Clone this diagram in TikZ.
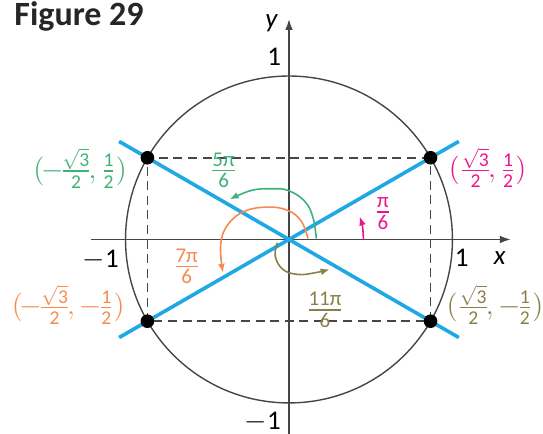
\documentclass[tikz,border=0pt]{standalone}
\usepackage{amsmath}
\usepackage{fontspec}
\setmainfont{Carlito}
\usepackage{tikz}
\usetikzlibrary{arrows.meta,positioning}

\definecolor{lineblue}{RGB}{30,168,228}
\definecolor{anggreen}{RGB}{62,178,122}
\definecolor{angpink}{RGB}{236,20,140}
\definecolor{angorange}{RGB}{245,138,78}
\definecolor{angolive}{RGB}{135,128,72}
\definecolor{axisgray}{RGB}{70,70,70}

\newcommand\fr[2]{\frac{\text{#1}}{\text{#2}}}
\newcommand\rtthree{\sqrt{\text{3}}}

\begin{document}
\begin{tikzpicture}[x=81.75pt,y=81.75pt,font=\fontsize{13.5}{15}\selectfont,
    axis/.style={axisgray,line width=0.9pt,-{Latex[length=5.5pt,width=3.8pt]}},
    dashline/.style={axisgray,line width=0.9pt,dash pattern=on 4.5pt off 2.8pt},
    blueline/.style={lineblue,line width=1.8pt},
    dot/.style={circle,fill=black,inner sep=0pt,minimum size=6.8pt},
    angarc/.style={line width=0.8pt,-{Latex[length=4.5pt,width=3.4pt]}},
    lbl/.style={inner sep=0pt},
    ptlbl/.style={inner sep=0pt,font=\fontsize{14}{16}\selectfont},
    anglbl/.style={inner sep=0pt,font=\fontsize{15}{16}\selectfont}]
    \useasboundingbox (-1.768,-1.190) rectangle (1.554,1.465);

    \node[anchor=base west,inner sep=0pt,text=black!85,font=\fontsize{17}{19}\selectfont\bfseries] (title) at (-1.682,1.312) {Figure 29};

    % points on the circle
    \coordinate (q1) at (30:1);
    \coordinate (q2) at (150:1);
    \coordinate (q3) at (210:1);
    \coordinate (q4) at (330:1);

    \draw[dashline] (q1) -- (q2) -- (q3) -- (q4) -- cycle;
    \draw[axisgray,line width=0.7pt] (0,0) circle (1);

    \draw[axis] (-1.212,0) -- (1.358,0);
    \draw[axis] (0,-1.19) -- (0,1.35);

    \draw[blueline] (210:1.2) -- (30:1.2);
    \draw[blueline] (150:1.2) -- (330:1.2);

    % angles
    \draw[angarc,angpink] (0.455,0) arc[start angle=0,end angle=18,radius=0.455];
    \draw[angarc,anggreen] plot[smooth,tension=0.7] coordinates
        {(0.167,0.006) (0.147,0.133) (0.096,0.234) (-0.006,0.30) (-0.108,0.31) (-0.23,0.30) (-0.363,0.245)};
    \draw[angarc,angorange] plot[smooth,tension=0.7] coordinates
        {(0.116,0.006) (0.075,0.112) (-0.006,0.177) (-0.128,0.198) (-0.27,0.173) (-0.373,0.092) (-0.418,-0.031) (-0.404,-0.204)};
    \draw[angarc,angolive] plot[smooth,tension=0.7] coordinates
        {(-0.071,-0.02) (-0.084,-0.102) (-0.037,-0.183) (0.055,-0.214) (0.157,-0.204) (0.249,-0.183)};

    \node[dot] (d1) at (q1) {};
    \node[dot] (d2) at (q2) {};
    \node[dot] (d3) at (q3) {};
    \node[dot] (d4) at (q4) {};

    % axis labels
    \node[lbl] (ylab) at (-0.105,1.32) {\textit{y}};
    \node[lbl] (xlab) at (1.29,-0.115) {\textit{x}};
    \node[lbl] (ytop) at (-0.09,1.118) {1};
    \node[lbl] (ybot) at (-0.16,-1.115) {$-$1};
    \node[lbl] (xleft) at (-1.151,-0.125) {$-$1};
    \node[lbl] (xright) at (1.056,-0.115) {1};

    % coordinates of the points
    \node[ptlbl,angpink] (c1) at (1.215,0.437) {$(\frac{\rtthree}{\text{2}}\mkern-2mu,\fr{1}{2})$};
    \node[ptlbl,anggreen] (c2) at (-1.278,0.435) {$(\mkern-2mu-\mkern-2mu\frac{\rtthree}{\text{2}}\mkern-2mu,\fr{1}{2})$};
    \node[ptlbl,angorange] (c3) at (-1.35,-0.40) {$(\mkern-2mu-\mkern-2mu\frac{\rtthree}{\text{2}}\mkern-2mu,-\mkern-2mu\fr{1}{2})$};
    \node[ptlbl,angolive] (c4) at (1.26,-0.40) {$(\frac{\rtthree}{\text{2}}\mkern-2mu,-\mkern-2mu\fr{1}{2})$};

    % angle labels
    \node[anglbl,angpink] (a1) at (0.575,0.158) {$\fr{π}{6}$};
    \node[anglbl,anggreen] (a2) at (-0.40,0.425) {$\fr{5π}{6}$};
    \node[anglbl,angorange] (a3) at (-0.626,-0.166) {$\fr{7π}{6}$};
    \node[anglbl,angolive] (a4) at (0.22,-0.43) {$\fr{11π}{6}$};
\end{tikzpicture}
\end{document}
